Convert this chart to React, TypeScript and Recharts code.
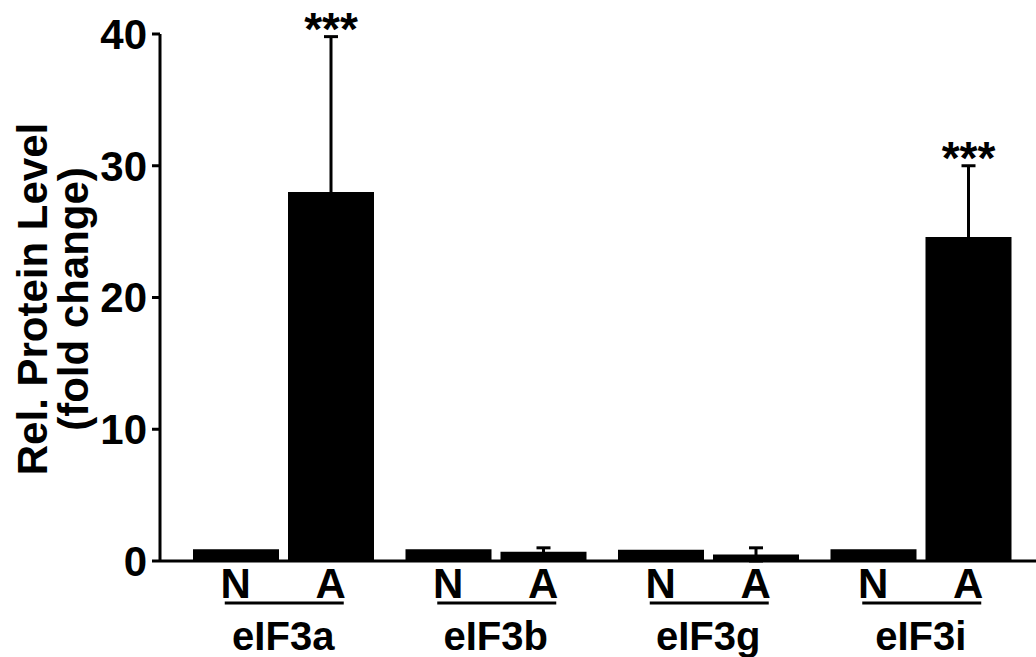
import { BarChart, Bar, XAxis, YAxis, ErrorBar, LabelList } from "recharts";

const groups = ["eIF3a", "eIF3b", "eIF3g", "eIF3i"];
const nValues = [0.9, 0.9, 0.85, 0.9];
const aValues = [28, 0.7, 0.5, 24.6];
const aErrors = [11.8, 0.3, 0.5, 5.4];
const stars = ["***", "", "", "***"];
const yTicks = [0, 10, 20, 30, 40];

const FONT = "'Liberation Sans', Arial, sans-serif";

const data = groups.map((g, i) => ({
  group: g,
  n: nValues[i],
  a: aValues[i],
  aErr: aErrors[i],
  stars: stars[i],
}));

function GroupTick(props: any) {
  const { x, y, payload } = props;
  const off = 47.5;
  return (
    <g fontFamily={FONT} fontWeight="bold" fill="#000">
      <text x={x - off} y={y + 37} textAnchor="middle" fontSize={42}>
        N
      </text>
      <text x={x + off} y={y + 37} textAnchor="middle" fontSize={42}>
        A
      </text>
      <line x1={x - 58.5} x2={x + 60.5} y1={y + 42} y2={y + 42} stroke="#000" strokeWidth={3} />
      <text x={x} y={y + 89} textAnchor="middle" fontSize={40}>
        {payload.value}
      </text>
    </g>
  );
}

// stars sit just above the top of the error bar
function renderStars(props: any) {
  const { x, y, width, height, value, index } = props;
  if (!value) return null;
  const pxPerUnit = height / aValues[index];
  const errTop = y - aErrors[index] * pxPerUnit;
  return (
    <text
      x={x + width / 2}
      y={errTop + 8}
      textAnchor="middle"
      fontSize={46}
      fontWeight="bold"
      fontFamily={FONT}
      fill="#000"
    >
      {value}
    </text>
  );
}

function YTitle() {
  return (
    <g fontFamily={FONT} fontWeight="bold" fill="#000" fontSize={42}>
      <text x={47} y={299} textAnchor="middle" transform="rotate(-90, 47, 299)">
        Rel. Protein Level
      </text>
      <text x={88} y={299} textAnchor="middle" transform="rotate(-90, 88, 299)">
        (fold change)
      </text>
    </g>
  );
}

export default function App() {
  return (
    <div style={{ width: 1036, height: 657, background: "#fff" }}>
      <style>{"body{margin:0}"}</style>
      <BarChart
        width={1036}
        height={657}
        data={data}
        margin={{ top: 34, right: 0, left: 0, bottom: 0 }}
        barSize={86}
        barGap={9}
      >
        <XAxis
          dataKey="group"
          height={96}
          interval={0}
          padding={{ left: 17, right: 9 }}
          tickLine={false}
          tickSize={0}
          tickMargin={0}
          axisLine={{ stroke: "#000", strokeWidth: 3 }}
          tick={<GroupTick />}
        />
        <YAxis
          type="number"
          domain={[0, 40]}
          ticks={yTicks}
          width={160}
          tickSize={8}
          tickMargin={5}
          axisLine={{ stroke: "#000", strokeWidth: 3 }}
          tickLine={{ stroke: "#000", strokeWidth: 3 }}
          tick={{ fontSize: 42, fontWeight: "bold", fill: "#000", fontFamily: FONT }}
          label={<YTitle />}
        />
        <Bar dataKey="n" fill="#000" isAnimationActive={false} />
        <Bar dataKey="a" fill="#000" isAnimationActive={false}>
          <ErrorBar dataKey="aErr" direction="y" width={7} strokeWidth={3} stroke="#000" />
          <LabelList dataKey="stars" content={renderStars} />
        </Bar>
      </BarChart>
    </div>
  );
}
